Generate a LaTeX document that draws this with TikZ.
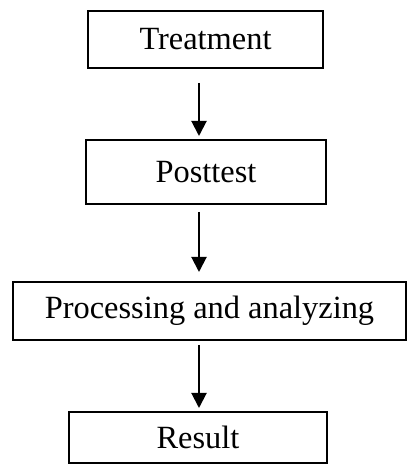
\documentclass[tikz,border=0pt]{standalone}
\usepackage{fontspec}
\setmainfont{Liberation Serif}
\usetikzlibrary{arrows.meta}
\tikzset{
  stage/.style={draw,line width=2pt,inner sep=0pt,font=\fontsize{32.4}{38}\selectfont},
  flow/.style={-{Triangle[width=15pt,length=15pt]},line width=2pt}
}
\begin{document}
\begin{tikzpicture}[x=1pt,y=1pt]
\useasboundingbox (0,0) rectangle (409,465);
%stages
\node[stage,minimum width=235pt,minimum height=57pt] (treatment) at (205.5,425.5) {Treatment};
\node[stage,minimum width=240pt,minimum height=64pt] (posttest) at (206,293) {Posttest};
\node[stage,minimum width=393pt,minimum height=58pt] (processing) at (209.5,154) {Processing and analyzing};
\node[stage,minimum width=258pt,minimum height=51pt] (result) at (198,27.5) {Result};

%arrows
\draw[flow,shorten <=14pt,shorten >=3pt] (treatment.south -| 199,0) -- (posttest.north -| 199,0);
\draw[flow,shorten <=7pt,shorten >=9pt] (posttest.south -| 199,0) -- (processing.north -| 199,0);
\draw[flow,shorten <=4pt,shorten >=3pt] (processing.south -| 199,0) -- (result.north -| 199,0);
\end{tikzpicture}
\end{document}
